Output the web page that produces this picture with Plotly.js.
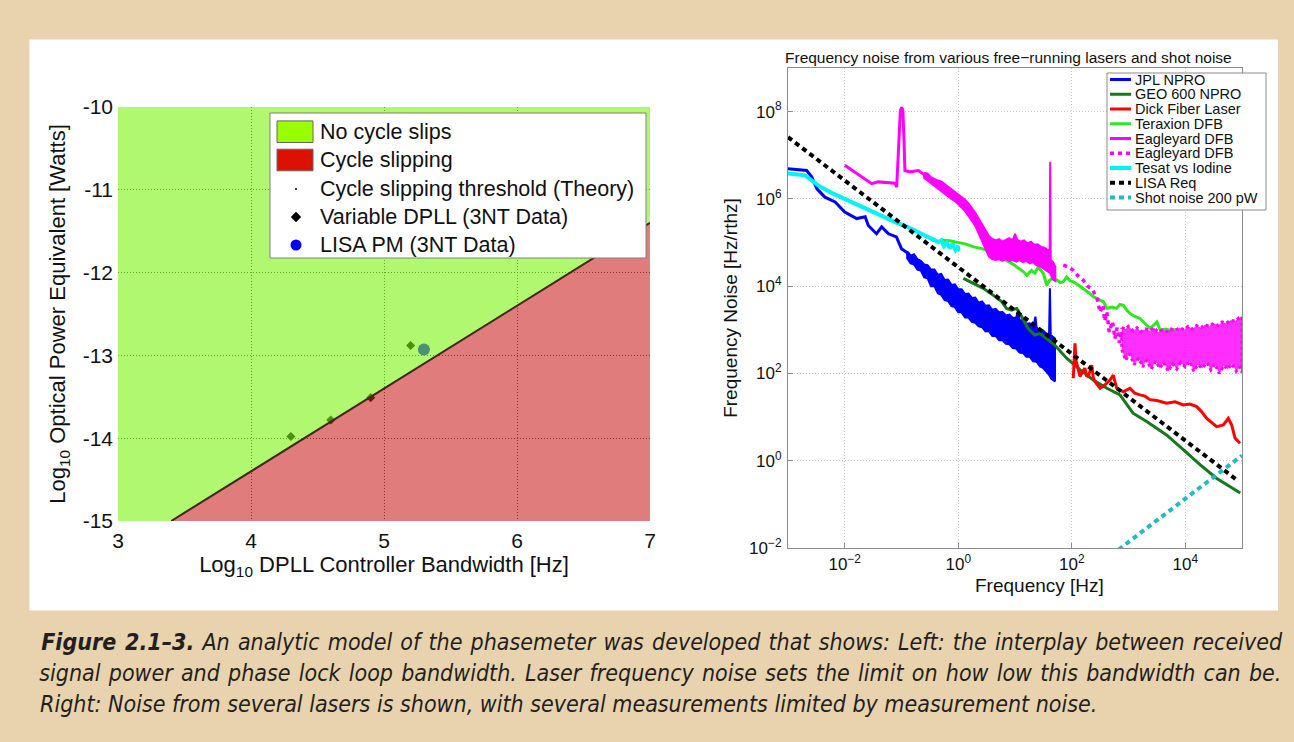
<!DOCTYPE html>
<html><head><meta charset="utf-8">
<script src="https://cdn.plot.ly/plotly-3.0.1.min.js"></script>
<style>html,body{margin:0;padding:0;background:#e8d3ae;overflow:hidden}#chart{width:1294px;height:742px}</style>
</head><body><div id="chart"></div>
<script>
// ---------------- LEFT CHART DATA ----------------
const bwTicks = [3, 4, 5, 6, 7];
const powTicks = [-15, -14, -13, -12, -11, -10];
const thresholdX = [3.4, 7.0];
const thresholdY = [-15.0, -11.4];
const dpllX = [4.3, 4.6, 4.9, 5.2];
const dpllY = [-13.98, -13.78, -13.51, -12.88];
const lisaPmX = [5.3];
const lisaPmY = [-12.93];
const leftLegendLabels = ['No cycle slips', 'Cycle slipping', 'Cycle slipping threshold (Theory)', 'Variable DPLL (3NT Data)', 'LISA PM (3NT Data)'];

// ---------------- RIGHT CHART DATA (log10 Hz, log10 Hz/rtHz) ----------------
const freqTickExp = [-2, 0, 2, 4];
const noiseTickExp = [-2, 0, 2, 4, 6, 8];

// JPL NPRO: single trace part, then noisy band (upper / lower envelope)
const jplLogF = [-3.0, -2.67, -2.58, -2.49, -2.35, -2.17, -2.0, -1.79, -1.64, -1.585, -1.44, -1.35, -1.23, -1.09, -1.0, -0.88, -0.84];
const jplLogN = [6.69, 6.65, 6.50, 6.23, 6.04, 5.93, 5.70, 5.55, 5.59, 5.39, 5.20, 5.36, 5.20, 5.13, 4.86, 4.75, 4.66];
const jplTopLogF = [-0.90, -0.84, -0.78, -0.72, -0.66, -0.60, -0.54, -0.48, -0.42, -0.36, -0.30, -0.24, -0.18, -0.12, -0.06, 0.0, 0.06, 0.12, 0.18, 0.24,
  0.30, 0.36, 0.42, 0.48, 0.54, 0.60, 0.66, 0.72, 0.78, 0.84, 0.90, 0.96, 1.02, 1.06, 1.08, 1.14, 1.20, 1.26, 1.32, 1.36, 1.38, 1.44, 1.50, 1.56, 1.60, 1.615, 1.63, 1.67, 1.705];
const jplTopLogN = [4.80, 4.70, 4.73, 4.62, 4.58, 4.50, 4.48, 4.38, 4.38, 4.26, 4.28, 4.14, 4.15, 4.03, 4.04, 3.93, 3.93, 3.82, 3.83, 3.73,
  3.74, 3.62, 3.65, 3.55, 3.56, 3.46, 3.48, 3.40, 3.41, 3.33, 3.35, 3.27, 3.28, 3.46, 3.22, 3.22, 3.14, 3.15, 3.06, 3.30, 3.06, 2.98, 2.98, 2.90, 2.90, 3.95, 2.88, 2.84, 2.80];
const jplBotLogF = [-0.90, -0.84, -0.78, -0.72, -0.66, -0.60, -0.54, -0.48, -0.42, -0.36, -0.30, -0.24, -0.18, -0.12, -0.06, 0.0, 0.06, 0.12, 0.18, 0.24,
  0.30, 0.36, 0.42, 0.48, 0.54, 0.60, 0.66, 0.72, 0.78, 0.84, 0.90, 0.96, 1.02, 1.08, 1.14, 1.20, 1.26, 1.32, 1.38, 1.44, 1.50, 1.56, 1.60, 1.64, 1.67, 1.705];
const jplBotLogN = [4.64, 4.52, 4.50, 4.38, 4.36, 4.20, 4.18, 4.00, 4.00, 3.84, 3.80, 3.68, 3.66, 3.54, 3.52, 3.40, 3.40, 3.28, 3.28, 3.18,
  3.16, 3.08, 3.06, 2.96, 2.97, 2.86, 2.86, 2.76, 2.76, 2.68, 2.67, 2.58, 2.57, 2.48, 2.47, 2.38, 2.38, 2.28, 2.27, 2.16, 2.12, 2.03, 1.97, 1.88, 1.86, 1.82];

const geoLogF = [0.09, 0.265, 0.44, 0.62, 0.77, 0.85, 0.94, 1.03, 1.12, 1.23, 1.35, 1.44, 1.56, 1.70, 1.91, 2.15, 2.38, 2.62, 2.85, 3.08, 3.32, 3.67, 3.97, 4.26, 4.55, 4.85, 4.97];
const geoLogN = [4.18, 4.06, 3.95, 3.79, 3.64, 3.49, 3.45, 3.49, 3.30, 3.03, 2.88, 2.92, 2.80, 2.65, 2.35, 2.08, 1.85, 1.66, 1.51, 1.09, 0.90, 0.59, 0.25, -0.09, -0.40, -0.63, -0.74];

const dickLogF = [2.027, 2.045, 2.057, 2.075, 2.098, 2.145, 2.19, 2.233, 2.26, 2.292, 2.352, 2.38, 2.41, 2.50, 2.586, 2.674, 2.732, 2.76, 2.792, 2.85, 2.908, 3.026, 3.11, 3.203, 3.29, 3.379, 3.50, 3.673, 3.82, 3.966, 4.08, 4.202, 4.29, 4.378, 4.47, 4.554, 4.671, 4.759, 4.818, 4.877, 4.965];
const dickLogN = [1.89, 2.40, 2.69, 2.30, 2.19, 1.93, 2.05, 2.12, 1.95, 1.93, 2.19, 1.90, 1.81, 1.66, 1.74, 1.85, 1.96, 1.80, 1.66, 1.62, 1.58, 1.66, 1.55, 1.51, 1.48, 1.40, 1.38, 1.32, 1.35, 1.28, 1.30, 1.24, 1.12, 0.97, 0.88, 0.78, 0.82, 0.97, 0.82, 0.52, 0.40];

const teraxionLogF = [-0.29, -0.15, -0.03, 0.12, 0.27, 0.42, 0.56, 0.70, 0.85, 0.97, 1.09, 1.15, 1.21, 1.29, 1.35, 1.41, 1.50, 1.56, 1.60, 1.65, 1.74, 1.80, 1.85, 1.91, 1.97, 2.03, 2.12, 2.20, 2.30, 2.38, 2.47, 2.56, 2.62, 2.70, 2.79, 2.85, 2.91, 2.97, 3.03, 3.12, 3.20, 3.29, 3.38, 3.44, 3.50, 3.56, 3.65, 3.73, 3.85];
const teraxionLogN = [5.05, 5.04, 5.01, 4.97, 4.90, 4.86, 4.79, 4.70, 4.59, 4.50, 4.40, 4.33, 4.25, 4.36, 4.30, 4.44, 4.29, 4.02, 4.12, 4.18, 4.14, 4.08, 4.10, 4.21, 4.12, 4.10, 4.02, 3.95, 3.85, 3.76, 3.70, 3.64, 3.49, 3.52, 3.49, 3.58, 3.56, 3.45, 3.37, 3.30, 3.26, 3.15, 3.03, 3.10, 3.18, 2.99, 3.02, 2.99, 3.01];

// Eagleyard DFB (solid): trace part with 0.1 Hz peak, then noisy band
const eagleALogF = [-2.0, -1.525, -1.41, -1.115, -1.085, -1.04, -1.02, -0.996, -0.975, -0.955, -0.94, -0.85, -0.70, -0.586];
const eagleALogN = [6.77, 6.35, 6.39, 6.36, 6.27, 7.30, 8.02, 8.10, 8.02, 7.30, 6.65, 6.62, 6.65, 6.54];
const eagleATopLogF = [-0.60, -0.54, -0.48, -0.42, -0.36, -0.30, -0.24, -0.18, -0.12, -0.06, 0.0, 0.06, 0.12, 0.18, 0.24, 0.30, 0.36, 0.42, 0.48, 0.54,
  0.60, 0.66, 0.72, 0.78, 0.84, 0.90, 0.96, 1.00, 1.04, 1.10, 1.16, 1.22, 1.28, 1.34, 1.40, 1.46, 1.52, 1.58, 1.61, 1.62, 1.63, 1.67, 1.71];
const eagleATopLogN = [6.60, 6.58, 6.50, 6.46, 6.42, 6.40, 6.34, 6.28, 6.24, 6.18, 6.12, 6.06, 5.98, 5.90, 5.80, 5.68, 5.55, 5.42, 5.28, 5.15,
  5.08, 5.05, 5.08, 5.02, 5.06, 5.10, 5.05, 5.20, 5.06, 5.02, 5.05, 4.98, 5.02, 4.95, 4.96, 4.90, 4.88, 4.82, 4.80, 6.85, 4.60, 4.55, 4.45];
const eagleABotLogF = [-0.60, -0.54, -0.48, -0.42, -0.36, -0.30, -0.24, -0.18, -0.12, -0.06, 0.0, 0.06, 0.12, 0.18, 0.24, 0.30, 0.36, 0.42, 0.48, 0.54,
  0.60, 0.66, 0.72, 0.78, 0.84, 0.90, 0.96, 1.02, 1.08, 1.14, 1.20, 1.26, 1.32, 1.38, 1.44, 1.50, 1.56, 1.62, 1.67, 1.71];
const eagleABotLogN = [6.48, 6.42, 6.36, 6.30, 6.24, 6.20, 6.12, 6.06, 6.00, 5.95, 5.88, 5.80, 5.72, 5.62, 5.50, 5.38, 5.22, 5.05, 4.85, 4.68,
  4.62, 4.60, 4.62, 4.58, 4.62, 4.58, 4.60, 4.56, 4.60, 4.55, 4.58, 4.52, 4.55, 4.48, 4.46, 4.40, 4.36, 4.30, 4.15, 4.12];

// Eagleyard DFB (dotted): scattered descent, then noisy band
const eagleBLogF = [1.85, 1.93, 2.02, 2.10, 2.20, 2.28, 2.37, 2.45, 2.50, 2.55, 2.58, 2.62, 2.66, 2.72, 2.76, 2.80, 2.84, 2.87];
const eagleBLogN = [4.48, 4.45, 4.37, 4.25, 4.14, 4.00, 3.91, 3.70, 3.40, 3.57, 3.20, 3.40, 2.95, 3.19, 2.80, 3.05, 2.70, 2.96];
const eagleBTopLogF = [2.88, 2.95, 3.0, 3.08, 3.15, 3.22, 3.30, 3.38, 3.45, 3.52, 3.60, 3.68, 3.75, 3.82, 3.90, 3.98, 4.05, 4.12, 4.20, 4.28,
  4.35, 4.42, 4.50, 4.58, 4.65, 4.72, 4.80, 4.88, 4.95, 5.0];
const eagleBTopLogN = [3.05, 3.02, 3.08, 2.98, 3.05, 2.96, 3.02, 2.98, 3.05, 2.95, 3.00, 2.96, 3.02, 2.98, 3.05, 3.00, 3.08, 3.02, 3.10, 3.05,
  3.12, 3.08, 3.15, 3.10, 3.18, 3.15, 3.22, 3.20, 3.28, 3.30];
const eagleBBotLogF = [2.88, 2.95, 3.02, 3.10, 3.18, 3.25, 3.32, 3.40, 3.48, 3.55, 3.62, 3.70, 3.78, 3.85, 3.92, 4.00, 4.08, 4.15, 4.22, 4.30,
  4.38, 4.45, 4.52, 4.60, 4.68, 4.75, 4.82, 4.90, 4.96, 5.0];
const eagleBBotLogN = [2.55, 2.30, 2.45, 2.20, 2.35, 2.15, 2.30, 2.10, 2.28, 2.12, 2.25, 2.05, 2.22, 2.10, 2.25, 2.15, 2.28, 2.05, 2.20, 2.12,
  2.25, 2.08, 2.22, 2.00, 2.18, 2.10, 2.22, 2.05, 2.15, 2.02];

const tesatLogF = [-3.0, -2.70, -2.47, -2.25, -2.0, -1.80, -1.585, -1.35, -1.11, -0.90, -0.70, -0.50, -0.35, -0.30, -0.25, -0.20, -0.15, -0.10, -0.05, 0.0, 0.0];
const tesatLogN = [6.58, 6.54, 6.31, 6.15, 6.00, 5.88, 5.74, 5.62, 5.47, 5.36, 5.24, 5.10, 5.01, 5.05, 4.92, 5.00, 4.87, 4.97, 4.83, 4.92, 4.80];

const lisaReqLogF = [-3.0, 4.94];
const lisaReqLogN = [7.415, -0.47];

const shotLogF = [2.70, 5.0];
const shotLogN = [-2.16, 0.12];

// ---------------- BUILD ----------------
const W = 1294, H = 742;
const FONT = 'Liberation Sans, Arial, Helvetica, sans-serif';
const pxX = v => v / W;
const pxY = v => 1 - v / H;
const pow10 = a => a.map(v => Math.pow(10, v));
const sup = e => '10<sup>' + (e < 0 ? '\u2212' + Math.abs(e) : e) + '</sup>';
const band = (tf, tn, bf, bn) => ({f: tf.concat(bf.slice().reverse(), [tf[0]]), n: tn.concat(bn.slice().reverse(), [tn[0]])});

const series = [
  {name: 'JPL NPRO', lf: jplLogF, ln: jplLogN, line: {color: '#0000ff', width: 3},
    band: band(jplTopLogF, jplTopLogN, jplBotLogF, jplBotLogN), bandLine: {color: '#0000ff', width: 2}, bandFill: '#0000ff'},
  {name: 'GEO 600 NPRO', lf: geoLogF, ln: geoLogN, line: {color: '#17771a', width: 3}},
  {name: 'Dick Fiber Laser', lf: dickLogF, ln: dickLogN, line: {color: '#ff0000', width: 3}},
  {name: 'Teraxion DFB', lf: teraxionLogF, ln: teraxionLogN, line: {color: '#2ee81f', width: 3}},
  {name: 'Eagleyard DFB', lf: eagleALogF, ln: eagleALogN, line: {color: '#ff00ff', width: 3},
    band: band(eagleATopLogF, eagleATopLogN, eagleABotLogF, eagleABotLogN), bandLine: {color: '#ff00ff', width: 2}, bandFill: '#ff00ff'},
  {name: 'Eagleyard DFB', lf: eagleBLogF, ln: eagleBLogN, line: {color: '#ff00ff', width: 3.5, dash: '4px,4px'},
    band: band(eagleBTopLogF, eagleBTopLogN, eagleBBotLogF, eagleBBotLogN), bandLine: {color: '#ff00ff', width: 3, dash: '3px,3px'}, bandFill: 'rgba(255,0,255,0.82)'},
  {name: 'Tesat vs Iodine', lf: tesatLogF, ln: tesatLogN, line: {color: '#00f4f4', width: 4}},
  {name: 'LISA Req', lf: lisaReqLogF, ln: lisaReqLogN, line: {color: '#000000', width: 4, dash: '5px,4px'}},
  {name: 'Shot noise 200 pW', lf: shotLogF, ln: shotLogN, line: {color: '#25b9c2', width: 4, dash: '5px,4px'}}
];

const traces = [];
// Left chart
const xr = [bwTicks[0], bwTicks[bwTicks.length - 1]];
const yr = [powTicks[0], powTicks[powTicks.length - 1]];
traces.push({x: dpllX, y: dpllY, xaxis: 'x', yaxis: 'y', mode: 'markers', name: leftLegendLabels[3],
  marker: {symbol: 'diamond', size: 7, color: '#000'}, hoverinfo: 'skip'});
traces.push({x: lisaPmX, y: lisaPmY, xaxis: 'x', yaxis: 'y', mode: 'markers', name: leftLegendLabels[4],
  marker: {symbol: 'circle', size: 12, color: '#0000ff'}, hoverinfo: 'skip'});
traces.push({x: [xr[0], thresholdX[0], thresholdX[1], xr[1], xr[0]], y: [yr[0], thresholdY[0], thresholdY[1], yr[1], yr[1]],
  xaxis: 'x', yaxis: 'y', mode: 'lines', fill: 'toself', fillcolor: 'rgba(123,243,17,0.6)', line: {width: 0}, name: leftLegendLabels[0], hoverinfo: 'skip'});
traces.push({x: [thresholdX[0], xr[1], thresholdX[1]], y: [thresholdY[0], yr[0], thresholdY[1]],
  xaxis: 'x', yaxis: 'y', mode: 'lines', fill: 'toself', fillcolor: 'rgba(203,37,37,0.6)', line: {width: 0}, name: leftLegendLabels[1], hoverinfo: 'skip'});
traces.push({x: thresholdX, y: thresholdY, xaxis: 'x', yaxis: 'y', mode: 'lines', name: leftLegendLabels[2],
  line: {color: '#3a2a12', width: 2}, hoverinfo: 'skip'});

// Right chart
series.forEach(s => {
  traces.push({x: pow10(s.lf), y: pow10(s.ln), xaxis: 'x2', yaxis: 'y2', mode: 'lines',
    name: s.name, line: Object.assign({}, s.line), hoverinfo: 'skip'});
  if (s.band) traces.push({x: pow10(s.band.f), y: pow10(s.band.n), xaxis: 'x2', yaxis: 'y2', mode: 'lines', fill: 'toself',
    fillcolor: s.bandFill, name: s.name, line: Object.assign({}, s.bandLine), hoverinfo: 'skip'});
});

// Left legend (aux axes x3/y3, pixel units)
const LL = {x0: 270, x1: 646, y0: 113, y1: 258, rows: [131.7, 160, 189, 217, 245], sw0: 277, sw1: 313, sym: 296, tx: 318};
traces.push({x: [LL.x0, LL.x1, LL.x1, LL.x0, LL.x0], y: [LL.y0, LL.y0, LL.y1, LL.y1, LL.y0], xaxis: 'x3', yaxis: 'y3',
  mode: 'lines', fill: 'toself', fillcolor: '#ffffff', line: {color: '#808080', width: 1}, hoverinfo: 'skip'});
const swatchCols = ['#99ff00', '#dd1100'];
[0, 1].forEach(i => {
  const yc = LL.rows[i], h = 10.8;
  traces.push({x: [LL.sw0, LL.sw1, LL.sw1, LL.sw0, LL.sw0], y: [yc - h, yc - h, yc + h, yc + h, yc - h], xaxis: 'x3', yaxis: 'y3',
    mode: 'lines', fill: 'toself', fillcolor: swatchCols[i], line: {color: '#666', width: 1}, hoverinfo: 'skip'});
});
traces.push({x: [LL.sym], y: [LL.rows[2]], xaxis: 'x3', yaxis: 'y3', mode: 'markers', marker: {size: 2, color: '#000'}, hoverinfo: 'skip'});
traces.push({x: [LL.sym], y: [LL.rows[3]], xaxis: 'x3', yaxis: 'y3', mode: 'markers', marker: {symbol: 'diamond', size: 8, color: '#000'}, hoverinfo: 'skip'});
traces.push({x: [LL.sym], y: [LL.rows[4]], xaxis: 'x3', yaxis: 'y3', mode: 'markers', marker: {symbol: 'circle', size: 11, color: '#0000ff'}, hoverinfo: 'skip'});

// Right legend (aux axes x4/y4, pixel units)
const RL = {x0: 1107, x1: 1266, y0: 73, y1: 210, r0: 79.5, dr: 14.75, l0: 1110, l1: 1131, tx: 1133};
traces.push({x: [RL.x0, RL.x1, RL.x1, RL.x0, RL.x0], y: [RL.y0, RL.y0, RL.y1, RL.y1, RL.y0], xaxis: 'x4', yaxis: 'y4',
  mode: 'lines', fill: 'toself', fillcolor: '#ffffff', line: {color: '#8a8a8a', width: 1}, hoverinfo: 'skip'});
series.forEach((s, i) => {
  const yc = RL.r0 + i * RL.dr;
  traces.push({x: [RL.l0, RL.l1], y: [yc, yc], xaxis: 'x4', yaxis: 'y4', mode: 'lines', line: Object.assign({}, s.line), hoverinfo: 'skip'});
});

const annotations = [];
leftLegendLabels.forEach((t, i) => annotations.push({xref: 'x3', yref: 'y3', x: LL.tx, y: LL.rows[i], text: t, showarrow: false,
  xanchor: 'left', yanchor: 'middle', font: {family: FONT, size: 21.5, color: '#111'}}));
series.forEach((s, i) => annotations.push({xref: 'x4', yref: 'y4', x: RL.tx, y: RL.r0 + i * RL.dr, text: s.name, showarrow: false,
  xanchor: 'left', yanchor: 'middle', font: {family: FONT, size: 14.5, color: '#111'}}));
annotations.push({xref: 'paper', yref: 'paper', x: pxX(1008), y: pxY(57), text: 'Frequency noise from various free\u2212running lasers and shot noise',
  showarrow: false, xanchor: 'center', yanchor: 'middle', font: {family: FONT, size: 15.5, color: '#111'}});
annotations.push({xref: 'paper', yref: 'paper', x: pxX(1039), y: pxY(585), text: 'Frequency [Hz]',
  showarrow: false, xanchor: 'center', yanchor: 'middle', font: {family: FONT, size: 19, color: '#111'}});

const CAP = 'Liberation Sans Narrow, DejaVu Sans Condensed, Arial Narrow, sans-serif';
const captionLines = [
  '<i><b>Figure 2.1\u20133.</b> An analytic model of the phasemeter was developed that shows: Left: the interplay between received</i>',
  '<i>signal power and phase lock loop bandwidth. Laser frequency noise sets the limit on how low this bandwidth can be.</i>',
  '<i>Right: Noise from several lasers is shown, with several measurements limited by measurement noise.</i>'
];
const capY = [642, 673, 704];
const capX = [52, 53, 38];   // lines 1-2 are widened (justified) around their centre
const capStart = annotations.length;
captionLines.forEach((t, i) => annotations.push({xref: 'paper', yref: 'paper', x: pxX(capX[i]), y: pxY(capY[i]), text: t, showarrow: false,
  xanchor: 'left', yanchor: 'middle', font: {family: CAP, size: 23, color: '#231f20'}}));

// justified look for the first two caption lines
const st = document.createElement('style');
st.textContent = '.annotation[data-index="' + capStart + '"] text{word-spacing:1.6px}' +
  '.annotation[data-index="' + (capStart + 1) + '"] text{word-spacing:1.65px}';
document.head.appendChild(st);

const layout = {
  width: W, height: H, margin: {l: 0, r: 0, t: 0, b: 0},
  paper_bgcolor: '#e8d3ae', plot_bgcolor: 'rgba(0,0,0,0)', showlegend: false,
  font: {family: FONT, color: '#111'},
  xaxis: {domain: [pxX(118), pxX(650)], range: xr, tickvals: bwTicks, ticktext: bwTicks.map(String), anchor: 'y',
    showgrid: true, gridcolor: '#404040', griddash: '1px,2px', gridwidth: 1, zeroline: false, showline: false, ticks: '',
    tickfont: {size: 21, color: '#111'}, ticklabelstandoff: 5,
    title: {text: 'Log<sub>10</sub> DPLL Controller Bandwidth [Hz]', font: {size: 22, color: '#111'}, standoff: 4}, fixedrange: true},
  yaxis: {domain: [pxY(521), pxY(107)], range: yr, tickvals: powTicks, ticktext: powTicks.map(String), anchor: 'x',
    showgrid: true, gridcolor: '#404040', griddash: '1px,2px', gridwidth: 1, zeroline: false, showline: false, ticks: '',
    tickfont: {size: 21, color: '#111'}, ticklabelstandoff: 4,
    title: {text: 'Log<sub>10</sub> Optical Power Equivalent [Watts]', font: {size: 22, color: '#111'}, standoff: 10}, fixedrange: true},
  xaxis2: {type: 'log', domain: [pxX(788), pxX(1242)], range: [-3, 5], anchor: 'y2',
    tickvals: pow10(freqTickExp), ticktext: freqTickExp.map(sup),
    showgrid: true, gridcolor: '#c4c4c4', griddash: '1px,2px', zeroline: false, showline: true, mirror: true, linecolor: '#8c8c8c', linewidth: 1,
    ticks: 'inside', ticklen: 5, tickcolor: '#8c8c8c', tickfont: {size: 17, color: '#111'}, ticklabelstandoff: 1, fixedrange: true},
  yaxis2: {type: 'log', domain: [pxY(548), pxY(68)], range: [-2, 9], anchor: 'x2',
    tickvals: pow10(noiseTickExp), ticktext: noiseTickExp.map(sup),
    showgrid: true, gridcolor: '#c4c4c4', griddash: '1px,2px', zeroline: false, showline: true, mirror: true, linecolor: '#8c8c8c', linewidth: 1,
    ticks: 'inside', ticklen: 5, tickcolor: '#8c8c8c', tickfont: {size: 17, color: '#111'}, ticklabelstandoff: 2,
    title: {text: 'Frequency Noise [Hz/rthz]', font: {size: 19, color: '#111'}, standoff: 6}, fixedrange: true},
  xaxis3: {domain: [pxX(268), pxX(648)], range: [268, 648], visible: false, fixedrange: true, anchor: 'y3'},
  yaxis3: {domain: [pxY(260), pxY(111)], range: [260, 111], visible: false, fixedrange: true, anchor: 'x3'},
  xaxis4: {domain: [pxX(1105), pxX(1268)], range: [1105, 1268], visible: false, fixedrange: true, anchor: 'y4'},
  yaxis4: {domain: [pxY(212), pxY(71)], range: [212, 71], visible: false, fixedrange: true, anchor: 'x4'},
  shapes: [{type: 'rect', xref: 'paper', yref: 'paper', x0: pxX(29.5), x1: pxX(1278), y0: pxY(610.5), y1: pxY(39.5),
    fillcolor: '#ffffff', line: {width: 0}, layer: 'below'}],
  annotations: annotations
};

Plotly.newPlot('chart', traces, layout, {displayModeBar: false, staticPlot: true});
</script></body></html>
